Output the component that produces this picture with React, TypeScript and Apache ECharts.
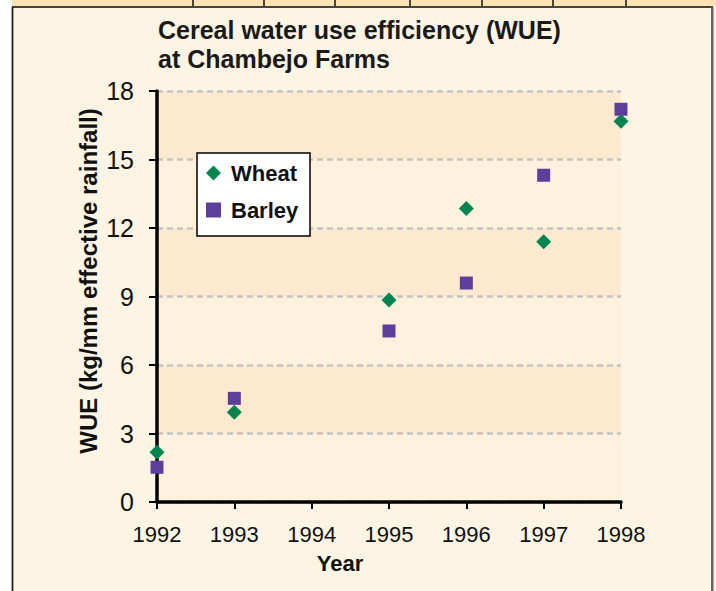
import React, { useEffect, useRef } from "react";
import * as echarts from "echarts";

const years = [1992, 1993, 1995, 1996, 1997, 1998];
const wheat = [2.18, 3.93, 8.85, 12.85, 11.4, 16.68];
const barley = [1.52, 4.54, 7.49, 9.59, 14.31, 17.2];
const titleLines = ["Cereal water use efficiency (WUE)", "at Chambejo Farms"];
const yName = "WUE (kg/mm effective rainfall)";
const xName = "Year";
const stripTicks = [193, 264, 335, 410, 482, 553, 626];

const FONT = "'Liberation Sans', Arial, Helvetica, sans-serif";

export default function App() {
  const ref = useRef<HTMLDivElement>(null);
  useEffect(() => {
    if (!ref.current) return;
    const chart = echarts.init(ref.current, undefined, { renderer: "svg" });
    const stripLines = stripTicks.map((x) => ({
      type: "line",
      shape: { x1: x, y1: 0, x2: x, y2: 7 },
      style: { stroke: "#111", lineWidth: 1.5 },
      silent: true,
    }));
    chart.setOption({
      animation: false,
      backgroundColor: "#FEF4E4",
      textStyle: { fontFamily: FONT },
      title: {
        text: titleLines.join("\n"),
        left: 158,
        top: 15,
        padding: 0,
        textStyle: {
          fontFamily: FONT,
          fontSize: 25,
          fontWeight: "bold",
          color: "#1a1a1a",
          lineHeight: 29,
        },
      },
      grid: { left: 157, right: 95, top: 91, bottom: 89, containLabel: false },
      legend: {
        orient: "vertical",
        left: 206,
        top: 162,
        padding: 0,
        itemGap: 15,
        itemWidth: 15,
        itemHeight: 15,
        z: 10,
        textStyle: {
          fontFamily: FONT,
          fontSize: 22,
          fontWeight: "bold",
          color: "#111",
          padding: [0, 0, 0, 5],
        },
        data: ["Wheat", "Barley"],
      },
      xAxis: {
        type: "value",
        min: 1992,
        max: 1998,
        interval: 1,
        axisLine: { show: true, lineStyle: { color: "#000", width: 3.5 } },
        axisTick: { show: true, length: 7, lineStyle: { color: "#000", width: 2 } },
        axisLabel: {
          fontSize: 22,
          color: "#111",
          margin: 21,
          fontFamily: FONT,
          formatter: (v: number) => String(v),
        },
        splitLine: { show: false },
      },
      yAxis: {
        type: "value",
        min: 0,
        max: 18,
        interval: 3,
        axisLine: { show: true, lineStyle: { color: "#000", width: 3.5 } },
        axisTick: { show: true, length: 8, lineStyle: { color: "#000", width: 2 } },
        axisLabel: { fontSize: 25, color: "#111", margin: 23, fontFamily: FONT },
        splitLine: { show: true, lineStyle: { color: "#C4C4C4", width: 2.5, type: [6, 4] } },
        splitArea: { show: true, areaStyle: { color: ["#FEF1DE", "#FDE9CF"] } },
      },
      graphic: [
        { type: "rect", shape: { x: 0, y: 0, width: 12, height: 591 }, style: { fill: "#fff" }, silent: true },
        { type: "rect", shape: { x: 12, y: 0, width: 704, height: 6 }, style: { fill: "#FEE3B6" }, silent: true },
        ...stripLines,
        { type: "line", shape: { x1: 12, y1: 7, x2: 713, y2: 7 }, style: { stroke: "#444", lineWidth: 1.8 }, silent: true },
        { type: "line", shape: { x1: 12.5, y1: 7, x2: 12.5, y2: 591 }, style: { stroke: "#222", lineWidth: 1.8 }, silent: true },
        { type: "rect", shape: { x: 711, y: 7, width: 2.5, height: 584 }, style: { fill: "#6B6462" }, silent: true },
        {
          type: "rect",
          z: 5,
          shape: { x: 197, y: 153, width: 113, height: 83 },
          style: { fill: "#fff", stroke: "#000", lineWidth: 1.5 },
          silent: true,
        },
        {
          type: "text",
          x: 88,
          y: 281,
          rotation: Math.PI / 2,
          style: {
            text: yName,
            fontFamily: FONT,
            fontSize: 24,
            fontWeight: "bold",
            fill: "#111",
            align: "center",
            verticalAlign: "middle",
          },
          silent: true,
        },
        {
          type: "text",
          x: 340,
          y: 563,
          style: {
            text: xName,
            fontFamily: FONT,
            fontSize: 22,
            fontWeight: "bold",
            fill: "#111",
            align: "center",
            verticalAlign: "middle",
          },
          silent: true,
        },
      ],
      series: [
        {
          name: "Wheat",
          type: "scatter",
          symbol: "diamond",
          symbolSize: 15,
          itemStyle: { color: "#008551", opacity: 1 },
          data: years.map((y, i) => [y, wheat[i]]),
          z: 3,
        },
        {
          name: "Barley",
          type: "scatter",
          symbol: "rect",
          symbolSize: 13,
          itemStyle: { color: "#5C3F9B", opacity: 1 },
          data: years.map((y, i) => [y, barley[i]]),
          z: 3,
        },
      ],
    });
    return () => chart.dispose();
  }, []);
  return (
    <div
      ref={ref}
      style={{ position: "fixed", left: 0, top: 0, width: 716, height: 591 }}
    />
  );
}
